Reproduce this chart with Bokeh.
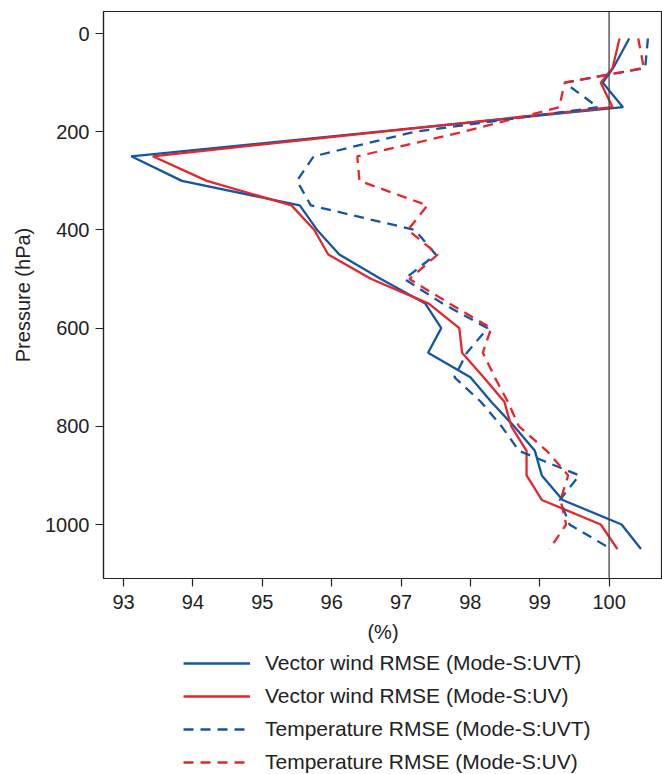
from bokeh.plotting import figure
from bokeh.models import Range1d, Legend, LegendItem, Span, FixedTicker
from bokeh.layouts import column
from bokeh.embed import file_html
from bokeh.resources import INLINE

# Pressure levels (hPa)
pressure = [10, 70, 100, 150, 200, 250, 300, 350, 400, 450, 500, 550, 600,
            650, 700, 750, 800, 850, 900, 950, 1000, 1050]

wind_uvt = [100.29, 100.06, 99.91, 100.20, 96.65, 93.11, 93.84, 95.54, 95.79,
            96.11, 96.71, 97.35, 97.58, 97.39, 98.00, 98.30, 98.63, 98.93,
            99.03, 99.33, 100.18, 100.46]
wind_uv = [100.15, 100.05, 99.88, 100.05, 96.70, 93.42, 94.20, 95.42, 95.75,
           95.95, 96.57, 97.40, 97.84, 97.88, 98.19, 98.49, 98.59, 98.81,
           98.81, 99.03, 99.88, 100.12]
temp_uvt = [100.56, 100.52, 99.36, 99.84, 97.20, 95.74, 95.50, 95.70, 97.20,
            97.50, 97.05, 97.60, 98.25, 97.95, 97.77, 98.15, 98.45, 98.70,
            99.57, 99.29, 99.43, 100.03]
temp_uv = [100.42, 100.50, 99.36, 99.28, 97.90, 96.37, 96.40, 97.38, 97.10,
           97.53, 97.12, 97.70, 98.30, 98.18, 98.35, 98.54, 98.70, 99.10,
           99.41, 99.30, 99.38, 99.14]

x_ticks = [93, 94, 95, 96, 97, 98, 99, 100]
y_ticks = [0, 200, 400, 600, 800, 1000]

labels = ["Vector wind RMSE (Mode-S:UVT)", "Vector wind RMSE (Mode-S:UV)",
          "Temperature RMSE (Mode-S:UVT)", "Temperature RMSE (Mode-S:UV)"]

BLUE = "#1356a6"
RED = "#e6262b"
FONT = "Liberation Sans"
TXT = "#222222"
FS = "20px"
DASH = "10 7"

series = [(wind_uvt, BLUE, "solid"), (wind_uv, RED, "solid"),
          (temp_uvt, BLUE, DASH), (temp_uv, RED, DASH)]

p = figure(width=662, height=650, output_backend="svg", toolbar_location=None,
           x_range=Range1d(92.71, 100.77), y_range=Range1d(1110, -45),
           min_border_left=103, min_border_top=11, min_border_right=0,
           min_border_bottom=72)

p.xgrid.visible = False
p.ygrid.visible = False
p.outline_line_color = "#222222"
p.outline_line_width = 1.2

for vals, col, dash in series:
    p.line(vals, pressure, line_color=col, line_width=2.3, line_dash=dash)

p.add_layout(Span(location=100, dimension="height", line_color="#444444",
                  line_width=1.3))

for ax in (p.xaxis[0], p.yaxis[0]):
    ax.axis_line_color = "#222222"
    ax.axis_line_width = 1.2
    ax.major_tick_line_color = "#222222"
    ax.major_tick_line_width = 1.2
    ax.major_tick_out = 8
    ax.major_tick_in = 0
    ax.minor_tick_line_color = None
    ax.major_label_text_font = FONT
    ax.major_label_text_font_size = FS
    ax.major_label_text_color = TXT
    ax.axis_label_text_font = FONT
    ax.axis_label_text_font_size = FS
    ax.axis_label_text_font_style = "normal"
    ax.axis_label_text_color = TXT

p.xaxis.ticker = FixedTicker(ticks=x_ticks)
p.yaxis.ticker = FixedTicker(ticks=y_ticks)
p.xaxis.axis_label = "(%)"
p.yaxis.axis_label = "Pressure (hPa)"
p.xaxis.major_label_standoff = 8
p.yaxis.major_label_standoff = 6
p.xaxis.axis_label_standoff = 9
p.yaxis.axis_label_standoff = 8

# Legend panel below the plot (series drawn out of its view, only legend shown)
q = figure(width=662, height=124, output_backend="svg", toolbar_location=None,
           min_border=0, x_range=Range1d(0, 1), y_range=Range1d(0, 1))
q.axis.visible = False
q.grid.visible = False
q.outline_line_color = None

items = []
for (vals, col, dash), lab in zip(series, labels):
    r = q.line(vals, pressure, line_color=col, line_width=2.3, line_dash=dash)
    items.append(LegendItem(label=lab, renderers=[r]))

legend = Legend(items=items, location=(80, 0), orientation="vertical")
legend.border_line_color = None
legend.background_fill_alpha = 0
legend.label_text_font = FONT
legend.label_text_font_size = "21px"
legend.label_text_color = TXT
legend.glyph_width = 67
legend.glyph_height = 20
legend.label_height = 20
legend.spacing = 9
legend.label_standoff = 15
legend.padding = 0
legend.margin = 0
q.add_layout(legend, "center")

layout = column(p, q, spacing=0)
open("out.html", "w").write(file_html(layout, INLINE))
